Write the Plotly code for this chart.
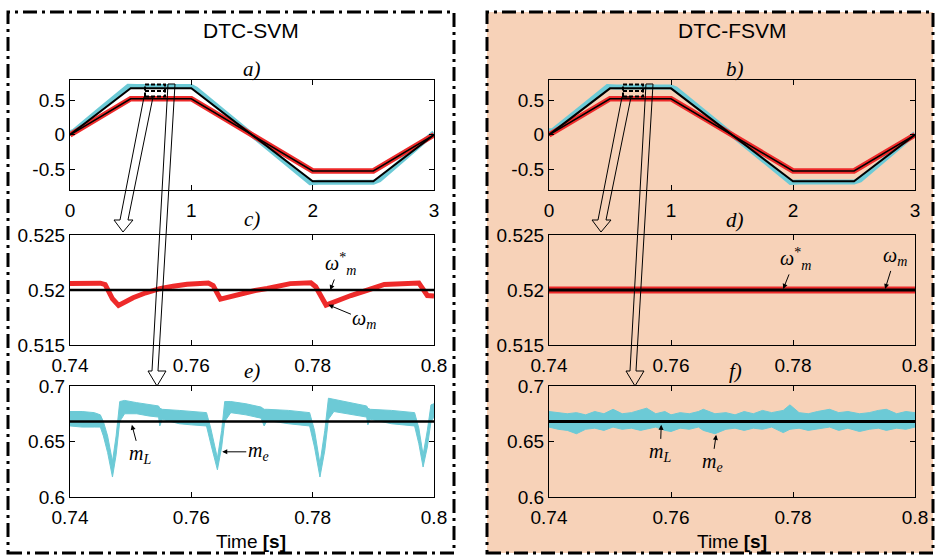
import plotly.graph_objects as go

W, H = 936, 555
def PX(x): return x / W
def PY(y): return 1 - y / H

# ---------------- data ----------------
# a) / b): 0..3 s overview
t_ref = [0.0, 0.5, 1.0, 2.0, 2.5, 3.0]
speed_ref = [0.0, 0.52, 0.52, -0.52, -0.52, 0.0]
speed_meas = [0.0, 0.52, 0.52, -0.52, -0.52, 0.0]
torque_ref = [0.0, 0.67, 0.67, -0.67, -0.67, 0.0]
t_torque = [0.0, 0.03, 0.25, 0.48, 0.55, 1.0, 1.04, 1.5, 1.75, 1.98, 2.05, 2.5, 2.55, 2.8, 3.0]
torque_svm = [0.03, 0.05, 0.37, 0.70, 0.695, 0.695, 0.66, 0.0, -0.36, -0.69, -0.685, -0.685, -0.65, -0.27, 0.03]
torque_fsvm = [0.06, 0.06, 0.37, 0.695, 0.69, 0.69, 0.66, 0.0, -0.36, -0.685, -0.68, -0.68, -0.65, -0.27, 0.02]

# c) speed zoom, DTC-SVM
t_c = [0.7400, 0.7450, 0.7458, 0.7470, 0.7480, 0.7504, 0.7525, 0.7548, 0.7570, 0.7593,
       0.7628, 0.7636, 0.7648, 0.7681, 0.7705, 0.7725, 0.7763, 0.7797, 0.7805, 0.7822,
       0.7845, 0.7863, 0.7891, 0.7918, 0.7975, 0.7983, 0.7989, 0.8000]
w_svm = [0.52060, 0.52062, 0.52050, 0.51920, 0.51860, 0.51930, 0.51975, 0.52012, 0.52035, 0.52052,
         0.52064, 0.52040, 0.51917, 0.51969, 0.51995, 0.52014, 0.52058, 0.52066, 0.52030, 0.51863,
         0.51915, 0.51950, 0.52000, 0.52050, 0.52064, 0.52000, 0.51950, 0.51945]
t_zoom = [0.74, 0.80]
w_ref = [0.52, 0.52]
w_fsvm = [0.52, 0.52]
mL_ref = [0.668, 0.668]

# e) torque zoom, DTC-SVM (upper / lower envelope of the ripple band)
t_e = [0.7400, 0.7420, 0.7440, 0.7450, 0.7455, 0.7462, 0.7470, 0.7476, 0.7482, 0.7490,
       0.7510, 0.7530, 0.7546, 0.7548, 0.7552, 0.7580, 0.7600, 0.7625, 0.7632, 0.7643,
       0.7650, 0.7655, 0.7665, 0.7690, 0.7715, 0.7720, 0.7725, 0.7760, 0.7795, 0.7803,
       0.7812, 0.7820, 0.7826, 0.7835, 0.7860, 0.7889, 0.7891, 0.7895, 0.7930, 0.7968,
       0.7975, 0.7982, 0.7989, 0.7995, 0.8000]
me_svm_up = [0.677, 0.677, 0.676, 0.674, 0.668, 0.655, 0.632, 0.655, 0.686, 0.687,
             0.685, 0.683, 0.682, 0.680, 0.679, 0.678, 0.677, 0.676, 0.662, 0.635,
             0.660, 0.686, 0.686, 0.684, 0.681, 0.679, 0.679, 0.678, 0.676, 0.660,
             0.630, 0.660, 0.689, 0.688, 0.685, 0.682, 0.680, 0.679, 0.678, 0.676,
             0.662, 0.638, 0.660, 0.683, 0.684]
me_svm_lo = [0.664, 0.663, 0.663, 0.663, 0.655, 0.640, 0.618, 0.638, 0.668, 0.675,
             0.675, 0.673, 0.672, 0.664, 0.670, 0.666, 0.665, 0.664, 0.648, 0.6245,
             0.645, 0.668, 0.676, 0.674, 0.671, 0.664, 0.669, 0.666, 0.664, 0.645,
             0.618, 0.642, 0.670, 0.677, 0.675, 0.672, 0.665, 0.670, 0.666, 0.664,
             0.648, 0.627, 0.645, 0.668, 0.672]

# f) torque zoom, DTC-FSVM
t_f = [0.7400, 0.7415, 0.7430, 0.7445, 0.7460, 0.7475, 0.7490, 0.7505, 0.7520, 0.7535,
       0.7550, 0.7560, 0.7575, 0.7590, 0.7600, 0.7615, 0.7630, 0.7645, 0.7653, 0.7672,
       0.7690, 0.7705, 0.7720, 0.7735, 0.7750, 0.7765, 0.7784, 0.7795, 0.7810, 0.7825,
       0.7840, 0.7860, 0.7875, 0.7890, 0.7909, 0.7925, 0.7940, 0.7953, 0.7970, 0.7985,
       0.8000]
me_fsvm_up = [0.677, 0.676, 0.675, 0.676, 0.674, 0.677, 0.675, 0.679, 0.675, 0.676,
              0.678, 0.680, 0.675, 0.677, 0.674, 0.676, 0.675, 0.677, 0.679, 0.675,
              0.676, 0.674, 0.677, 0.675, 0.678, 0.676, 0.678, 0.683, 0.676, 0.675,
              0.677, 0.679, 0.676, 0.677, 0.675, 0.676, 0.678, 0.679, 0.675, 0.677,
              0.676]
me_fsvm_lo = [0.663, 0.661, 0.660, 0.657, 0.661, 0.662, 0.660, 0.663, 0.661, 0.662,
              0.660, 0.661, 0.663, 0.660, 0.659, 0.662, 0.661, 0.663, 0.660, 0.657,
              0.661, 0.662, 0.660, 0.662, 0.661, 0.663, 0.658, 0.661, 0.662, 0.660,
              0.661, 0.663, 0.660, 0.662, 0.659, 0.661, 0.662, 0.660, 0.662, 0.661,
              0.663]

x_ticks_a = [0, 1, 2, 3]
x_ticktext_a = ["0", "1", "2", "3"]
y_ticks_a = [-0.5, 0, 0.5]
y_ticktext_a = ["-0.5", "0", "0.5"]
x_ticks_z = [0.74, 0.76, 0.78, 0.8]
x_ticktext_z = ["0.74", "0.76", "0.78", "0.8"]
y_ticks_c = [0.515, 0.52, 0.525]
y_ticktext_c = ["0.515", "0.52", "0.525"]
y_ticks_e = [0.6, 0.65, 0.7]
y_ticktext_e = ["0.6", "0.65", "0.7"]

RED = "#EE2A2A"
CYAN = "#6CCAD6"
PEACH = "#F7D2B8"
SANS = "Liberation Sans, Arial, sans-serif"
SERIF = "Liberation Serif, Times New Roman, serif"

fig = go.Figure()

def band(t, up, lo, xa, ya):
    fig.add_trace(go.Scatter(x=list(t) + list(t)[::-1], y=list(up) + list(lo)[::-1],
                             fill="toself", fillcolor=CYAN, mode="lines",
                             line=dict(color=CYAN, width=1), xaxis=xa, yaxis=ya,
                             hoverinfo="skip", showlegend=False))

def line(t, v, color, width, xa, ya):
    fig.add_trace(go.Scatter(x=t, y=v, mode="lines", line=dict(color=color, width=width),
                             xaxis=xa, yaxis=ya, showlegend=False))

# a) and b)
for xa, ya, tq in (("x", "y", torque_svm), ("x4", "y4", torque_fsvm)):
    line(t_torque, tq, CYAN, 5, xa, ya)
    line(t_ref, speed_meas, RED, 5.5, xa, ya)
    line(t_ref, torque_ref, "black", 2, xa, ya)
    line(t_ref, speed_ref, "black", 1.5, xa, ya)

# c) and d)
line(t_c, w_svm, RED, 5, "x2", "y2")
line(t_zoom, w_ref, "black", 2.5, "x2", "y2")
line(t_zoom, w_fsvm, RED, 7, "x5", "y5")
line(t_zoom, w_ref, "black", 3, "x5", "y5")

# e) and f)
band(t_e, me_svm_up, me_svm_lo, "x3", "y3")
line(t_zoom, mL_ref, "black", 2.5, "x3", "y3")
band(t_f, me_fsvm_up, me_fsvm_lo, "x6", "y6")
line(t_zoom, mL_ref, "black", 3, "x6", "y6")

# ---------------- axes ----------------
LX = [70 / W, 434 / W]
RX = [549 / W, 915 / W]
R1 = [PY(190), PY(80)]
R2 = [PY(345), PY(235)]
R3 = [PY(497), PY(386)]

def ax_style(**kw):
    d = dict(showline=True, linecolor="black", linewidth=1.2, mirror="ticks",
             ticks="inside", ticklen=5, tickcolor="black", showgrid=False,
             zeroline=False, automargin=False,
             tickfont=dict(family=SANS, size=19, color="black"),
             fixedrange=True)
    d.update(kw)
    return d

layout_axes = {}
specs = [
    ("", LX, R1, [0, 3], [-0.795, 0.79], x_ticks_a, x_ticktext_a, y_ticks_a, y_ticktext_a),
    ("2", LX, R2, [0.74, 0.8], [0.515, 0.525], x_ticks_z, x_ticktext_z, y_ticks_c, y_ticktext_c),
    ("3", LX, R3, [0.74, 0.8], [0.6, 0.7], x_ticks_z, x_ticktext_z, y_ticks_e, y_ticktext_e),
    ("4", RX, R1, [0, 3], [-0.795, 0.79], x_ticks_a, x_ticktext_a, y_ticks_a, y_ticktext_a),
    ("5", RX, R2, [0.74, 0.8], [0.515, 0.525], x_ticks_z, x_ticktext_z, y_ticks_c, y_ticktext_c),
    ("6", RX, R3, [0.74, 0.8], [0.6, 0.7], x_ticks_z, x_ticktext_z, y_ticks_e, y_ticktext_e),
]
for s, dx, dy, xr, yr, xt, xtt, yt, ytt in specs:
    layout_axes["xaxis" + s] = ax_style(domain=dx, range=xr, anchor="y" + s,
                                        tickvals=xt, ticktext=xtt, ticklabelstandoff=3)
    layout_axes["yaxis" + s] = ax_style(domain=dy, range=yr, anchor="x" + s,
                                        tickvals=yt, ticktext=ytt)

# ---------------- shapes ----------------
shapes = []
# right panel background
shapes.append(dict(type="rect", xref="paper", yref="paper", x0=PX(487), x1=PX(933),
                   y0=PY(553), y1=PY(12), fillcolor=PEACH, line=dict(width=0), layer="below"))
# dash-dot panel frames
for x0, x1 in ((8, 454), (487, 933)):
    shapes.append(dict(type="rect", xref="paper", yref="paper", x0=PX(x0), x1=PX(x1),
                       y0=PY(553), y1=PY(12), fillcolor="rgba(0,0,0,0)",
                       line=dict(color="black", width=3, dash="14px,5px,3px,5px")))

def path(pts):
    return "M " + " L ".join(f"{PX(x):.5f},{PY(y):.5f}" for x, y in pts) + " Z"

for off in (0, 478):
    # dashed zoom boxes
    shapes.append(dict(type="rect", xref="paper", yref="paper", x0=PX(145 + off), x1=PX(165 + off),
                       y0=PY(96.5), y1=PY(84.5), line=dict(color="black", width=2, dash="4px,2px")))
    shapes.append(dict(type="line", xref="paper", yref="paper", x0=PX(145 + off), x1=PX(165 + off),
                       y0=PY(91), y1=PY(91), line=dict(color="black", width=2, dash="4px,2px")))
    # hollow arrow to c)/d)
    a1 = [(144, 97), (153, 97), (128, 220), (133, 220), (123, 232), (114, 220), (120, 220)]
    shapes.append(dict(type="path", xref="paper", yref="paper",
                       path=path([(x + off, y) for x, y in a1]),
                       line=dict(color="black", width=1), fillcolor="rgba(0,0,0,0)"))
    # hollow arrow to e)/f)
    a2 = [(168, 84), (175, 84), (158, 371), (166, 371), (157, 386), (148, 371), (152, 371)]
    shapes.append(dict(type="path", xref="paper", yref="paper",
                       path=path([(x + off, y) for x, y in a2]),
                       line=dict(color="black", width=1), fillcolor="rgba(0,0,0,0)"))

# ---------------- annotations ----------------
ann = []
def ptext(txt, x, y, size, family=SANS):
    ann.append(dict(text=txt, x=PX(x), y=PY(y), xref="paper", yref="paper",
                    showarrow=False, xanchor="center", yanchor="middle",
                    font=dict(family=family, size=size, color="black")))

ptext("DTC-SVM", 251, 31, 21)
ptext("DTC-FSVM", 732, 31, 21)
for lab, x, y in (("a)", 252, 69), ("c)", 252, 219), ("e)", 252, 371),
                  ("b)", 735, 69), ("d)", 735, 220), ("f)", 735, 371)):
    ptext(f"<i>{lab}</i>", x, y, 21, SERIF)
ptext("Time <b>[s]</b>", 251, 541, 19)
ptext("Time <b>[s]</b>", 732, 541, 19)

WSTAR = "<i>ω</i><sup>*</sup><sub><i>m</i></sub>"
WM = "<i>ω<sub>m</sub></i>"
ML = "<i>m<sub>L</sub></i>"
ME = "<i>m<sub>e</sub></i>"

def arr(txt, xa, ya, x, y, ax, ay):
    ann.append(dict(text=txt, x=x, y=y, xref=xa, yref=ya, ax=ax, ay=ay,
                    showarrow=True, arrowhead=2, arrowsize=1, arrowwidth=1,
                    arrowcolor="black", standoff=0,
                    font=dict(family=SERIF, size=20, color="black")))

arr(WSTAR, "x2", "y2", 0.7829, 0.5200, 10, -26)
arr(WM, "x2", "y2", 0.7826, 0.51865, 36, 15)
arr(WSTAR, "x5", "y5", 0.7784, 0.5201, 12, -30)
arr(WM, "x5", "y5", 0.7951, 0.5201, 10, -32)
arr(ML, "x3", "y3", 0.7502, 0.665, 8, 30)
arr(ME, "x3", "y3", 0.7651, 0.6407, 36, 0)
arr(ML, "x6", "y6", 0.7584, 0.665, -1, 28)
arr(ME, "x6", "y6", 0.7674, 0.656, -4, 28)

fig.update_layout(template="none", width=W, height=H, margin=dict(l=0, r=0, t=0, b=0, pad=0),
                  autosize=False,
                  paper_bgcolor="white", plot_bgcolor="white",
                  shapes=shapes, annotations=ann, showlegend=False, **layout_axes)

fig.write_html("out.html", config={"displayModeBar": False},
               post_script="document.body.style.margin='0';document.body.style.padding='0';")
